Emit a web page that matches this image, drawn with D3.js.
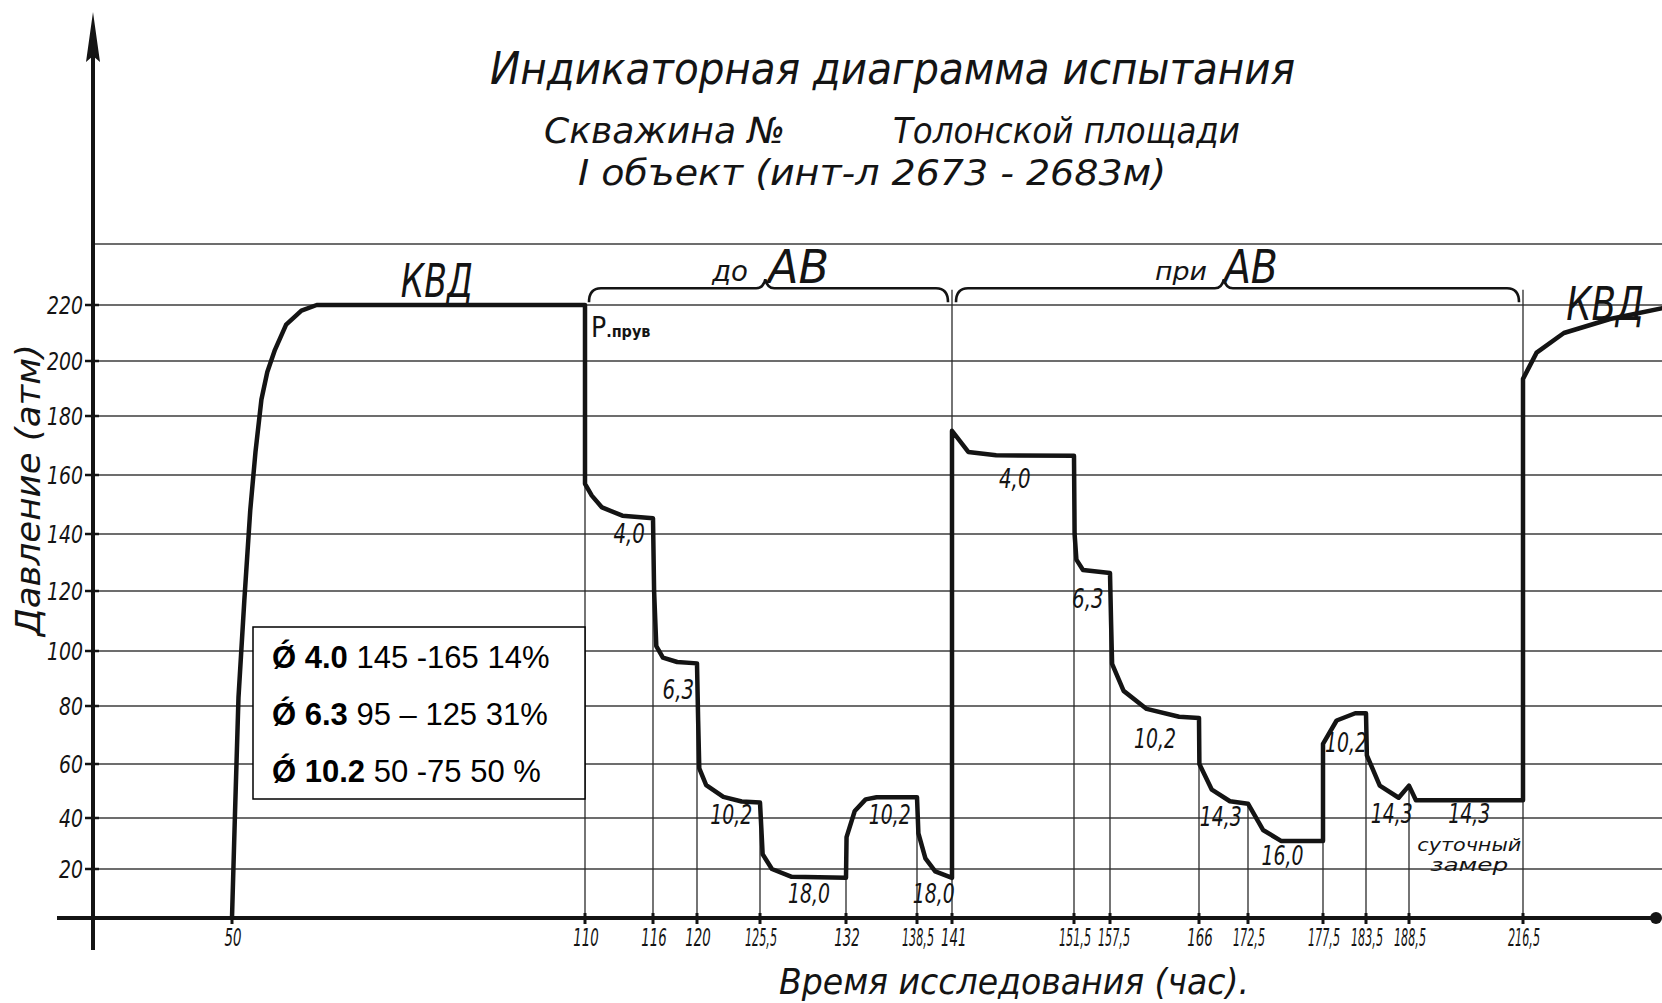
<!DOCTYPE html>
<html><head><meta charset="utf-8">
<script src="https://cdn.jsdelivr.net/npm/d3@7"></script>
<style>
html,body{margin:0;padding:0;background:#fff;}
svg{display:block;}
.hand{font-family:'Liberation Sans Narrow','DejaVu Sans Condensed','Liberation Sans',sans-serif;font-style:italic;fill:#141414;}
.legend{font-family:'Liberation Sans',Arial,sans-serif;fill:#000;}
</style></head><body>
<svg id="chart" width="1662" height="1003"></svg>
<script>
// ---------------- DATA ----------------
const titleLine1 = "Индикаторная диаграмма испытания";
const titleLine2a = "Скважина №";
const titleLine2b = "Толонской площади";
const titleLine3 = "I объект (инт-л 2673 - 2683м)";
const yAxisTitle = "Давление (атм)";
const xAxisTitle = "Время исследования (час).";

const xTickValues = [50,110,116,120,125.5,132,138.5,141,151.5,157.5,166,172.5,177.5,183.5,188.5,216.5];
const xTickLabels = ["50","110","116","120","125,5","132","138,5","141","151,5","157,5","166","172,5","177,5","183,5","188,5","216,5"];
const yTickValues = [20,40,60,80,100,120,140,160,180,200,220];
const yTickLabels = ["20","40","60","80","100","120","140","160","180","200","220"];

// pressure curve: time (hours) and pressure (atm)
const hours = [50,50.5,51.1,52.1,53.1,54,55,56,57.3,59.2,61.8,64.4,110,
  110,110.6,111.5,113.3,116,
  116.1,116.3,116.9,118.2,120,
  120.1,120.2,120.8,122.3,123.9,125.5,
  125.6,125.7,126.4,127.9,132,
  132.05,132.8,133.8,134.8,138.5,
  138.6,139.1,139.8,141,
  141,142.4,144.8,151.5,
  151.6,151.9,153,157.5,
  157.6,157.7,158.8,161,164.1,166,
  166.05,167.7,170.1,172.5,
  173.5,174.7,177.5,
  177.5,179.4,182,183.5,
  183.6,185.1,187.3,188.5,190.2,216.5,
  216.5,218.3,221.9,228,235.2];
const pressure = [0,41,83,117,148,168,186,196,204,213,218,220,220,
  157,153,149,146.2,145.3,
  120,101.6,97.6,96,95.5,
  75,58.4,52.2,47.8,46.1,45.7,
  36,25.8,20,16.8,16.4,
  32.5,42.6,46.9,47.7,47.7,
  34,24.2,19,16.4,
  175,167.8,166.7,166.5,
  140,131,127.4,126.3,
  110,95.3,85.5,79,76.3,75.9,
  60,50.5,46.2,45.3,
  35.3,31,31,
  66.9,75,77.5,77.5,
  63,52,47.5,52,46.6,46.6,
  193.5,203,210,215,219];

// thin vertical lines at regime changes: hour and top pressure
const markerHours = [110,116,120,125.5,132,138.5,141,151.5,157.5,166,172.5,177.5,183.5,188.5,216.5];
const markerTops  = [157,145,95.5,45.7,16.4,47.7,225,166,126.3,76,45.3,31,77.5,52,225];

// choke diameter labels on the curve
const levelLabels    = ["4,0","6,3","10,2","18,0","10,2","18,0","4,0","6,3","10,2","14,3","16,0","10,2","14,3","14,3"];
const levelHours     = [113.9,118.3,123.0,129.2,136.0,139.7,146.4,153.8,161.8,168.9,174.8,180.7,186.5,203.3];
const levelPressures = [137,82.5,37.5,6,37.5,6,155.5,114.5,65.5,37,21.5,64,38,38];

// annotations
const noteTexts     = ["КВД","до","АВ","при","АВ","КВД","суточный","замер"];
const noteHours     = [84.8,121.3,126.1,161.8,169.3,222.2,203.3,203.3];
const notePressures = [222.6,227.9,227.2,228.2,227.2,214.6,27,19.2];

const braceFrom = [110,141];
const braceTo   = [141,216.5];
const braceMid  = [125.9,169.3];
const braceLevel = 225.5;

const legendCodes  = ["Ǿ 4.0","Ǿ 6.3","Ǿ 10.2"];
const legendRanges = [" 145 -165 14%"," 95 – 125 31%"," 50 -75 50 %"];

// ---------------- LAYOUT ----------------
const W = 1662, H = 1003;
const svg = d3.select("#chart");
// hand-drawn, non-uniform axes -> piecewise linear scales
const x = d3.scaleLinear()
  .domain([0,50,110,116,120,125.5,132,138.5,141,151.5,157.5,166,172.5,177.5,183.5,188.5,216.5,235])
  .range([93,232,585,653,697,760,846,917,952,1074,1110,1199,1248,1323,1366,1409,1523,1663]);
const y = d3.scaleLinear()
  .domain([0,20,40,60,80,100,120,140,160,180,200,220,240])
  .range([918,869,818,764,706,651,591,534,475,416,361,305,244]);
const ink = "#141414";

// grid
const grid = svg.append("g");
grid.selectAll("line.h").data(yTickValues.concat([240])).join("line")
  .attr("x1", x(0)).attr("x2", W).attr("y1", d => y(d)).attr("y2", d => y(d))
  .attr("stroke", "#3c3c3c").attr("stroke-width", 1.3);

// vertical marker lines
grid.selectAll("line.v").data(markerHours).join("line")
  .attr("x1", d => x(d)).attr("x2", d => x(d))
  .attr("y1", y(0)).attr("y2", (d,i) => y(markerTops[i]))
  .attr("stroke", "#2a2a2a").attr("stroke-width", 1.3);

// axes
svg.append("line").attr("x1", 57).attr("x2", 1656).attr("y1", y(0)).attr("y2", y(0))
  .attr("stroke", ink).attr("stroke-width", 4);
svg.append("circle").attr("cx", 1656).attr("cy", y(0)).attr("r", 6).attr("fill", ink);
svg.append("line").attr("x1", x(0)).attr("x2", x(0)).attr("y1", 50).attr("y2", 950)
  .attr("stroke", ink).attr("stroke-width", 4);
svg.append("path").attr("d", `M${x(0)},12 L${x(0)+7},62 L${x(0)},56 L${x(0)-7},62 Z`).attr("fill", ink);

// y ticks and labels
const yAx = svg.append("g");
yAx.selectAll("line").data(yTickValues).join("line")
  .attr("x1", x(0)-8).attr("x2", x(0)+6).attr("y1", d => y(d)).attr("y2", d => y(d))
  .attr("stroke", ink).attr("stroke-width", 2.5);
yAx.selectAll("text").data(yTickLabels).join("text")
  .attr("class", "hand").attr("x", 83).attr("y", (d,i) => y(yTickValues[i]))
  .attr("dy", "0.35em").attr("text-anchor", "end").attr("font-size", 25)
  .attr("textLength", d => d.length * 12).attr("lengthAdjust", "spacingAndGlyphs").text(d => d);

// x ticks and labels (narrowed with a horizontal scale, pushed apart when crowded)
const xAx = svg.append("g");
xAx.selectAll("line").data(xTickValues).join("line")
  .attr("x1", d => x(d)).attr("x2", d => x(d)).attr("y1", y(0)-5).attr("y2", y(0)+6)
  .attr("stroke", ink).attr("stroke-width", 3);
const xlW = xTickLabels.map(d => d.length >= 5 ? 32 : d.length * 8.5);
const xlPos = [];
xTickValues.forEach((t, i) => {
  let p = x(t) + 1;
  if (i > 0 && p - xlW[i] / 2 < xlPos[i-1] + xlW[i-1] / 2 + 7) p = xlPos[i-1] + (xlW[i-1] + xlW[i]) / 2 + 7;
  xlPos.push(p);
});
xAx.selectAll("text").data(xTickLabels).join("text")
  .attr("class", "hand").attr("x", 0).attr("y", 0)
  .attr("text-anchor", "middle").attr("font-size", 24).text(d => d)
  .each(function(d, i) {
    const nat = this.getComputedTextLength() || 1;
    const sx = Math.min(1, xlW[i] / nat);
    d3.select(this).attr("transform", `translate(${xlPos[i]},946) scale(${sx},1)`);
  });

// pressure curve
const line = d3.line().x((d,i) => x(hours[i])).y((d,i) => y(pressure[i])).curve(d3.curveLinear);
svg.append("path").datum(hours).attr("d", line)
  .attr("fill", "none").attr("stroke", ink).attr("stroke-width", 4.5)
  .attr("stroke-linejoin", "round").attr("stroke-linecap", "round");

// braces
function bracePath(x1, x2, xm, yb) {
  const p = d3.path();
  p.moveTo(x1, yb + 14);
  p.quadraticCurveTo(x1, yb, x1 + 12, yb);
  p.lineTo(xm - 9, yb);
  p.quadraticCurveTo(xm - 2, yb, xm, yb - 9);
  p.quadraticCurveTo(xm + 2, yb, xm + 9, yb);
  p.lineTo(x2 - 12, yb);
  p.quadraticCurveTo(x2, yb, x2, yb + 14);
  return p.toString();
}
svg.selectAll("path.brace").data(braceFrom).join("path").attr("class", "brace")
  .attr("d", (d,i) => bracePath(x(d) + 4, x(braceTo[i]) - 4, x(braceMid[i]), y(braceLevel)))
  .attr("fill", "none").attr("stroke", ink).attr("stroke-width", 2.6);

// level labels
svg.append("g").selectAll("text").data(levelLabels).join("text")
  .attr("class", "hand").attr("x", (d,i) => x(levelHours[i])).attr("y", (d,i) => y(levelPressures[i]))
  .attr("text-anchor", "middle").attr("font-size", 27)
  .attr("textLength", d => d.length * 10.5).attr("lengthAdjust", "spacingAndGlyphs").text(d => d);

// notes
const noteSize = [46,28,46,24,46,46,17,17];
const noteAnchor = ["middle","start","start","start","start","start","middle","middle"];
const noteLen = [72,36,61,52,54,78,104,78];
svg.append("g").selectAll("text").data(noteTexts).join("text")
  .attr("class", "hand").attr("x", (d,i) => x(noteHours[i])).attr("y", (d,i) => y(notePressures[i]))
  .attr("text-anchor", (d,i) => noteAnchor[i]).attr("font-size", (d,i) => noteSize[i])
  .attr("textLength", (d,i) => noteLen[i]).attr("lengthAdjust", "spacingAndGlyphs")
  .text(d => d);

// P прув
const pt = svg.append("text").attr("x", x(110) + 6).attr("y", 337)
  .attr("font-family", "'Liberation Sans Narrow','DejaVu Sans Condensed',sans-serif").attr("fill", ink);
pt.append("tspan").attr("font-size", 28).text("Р");
pt.append("tspan").attr("font-size", 16).attr("font-weight", "bold").text(".прув");

// titles
function title(txt, x0, x1, base, size) {
  svg.append("text").attr("class", "hand").attr("x", x0).attr("y", base)
    .attr("font-size", size).attr("textLength", x1 - x0).attr("lengthAdjust", "spacingAndGlyphs").text(txt);
}
title(titleLine1, 490, 1295, 84, 44);
title(titleLine2a, 544, 785, 143, 36);
title(titleLine2b, 893, 1240, 143, 36);
title(titleLine3, 578, 1166, 185, 36);

// axis titles
svg.append("text").attr("class", "hand")
  .attr("transform", "translate(40,490) rotate(-90)")
  .attr("text-anchor", "middle").attr("font-size", 33)
  .attr("textLength", 292).attr("lengthAdjust", "spacingAndGlyphs").text(yAxisTitle);
svg.append("text").attr("class", "hand").attr("x", 779).attr("y", 994)
  .attr("font-size", 36).attr("textLength", 470).attr("lengthAdjust", "spacingAndGlyphs").text(xAxisTitle);

// legend box
const lg = svg.append("g");
lg.append("rect").attr("x", 253).attr("y", 627).attr("width", 332).attr("height", 172)
  .attr("fill", "#fff").attr("stroke", "#000").attr("stroke-width", 1.5);
const lgRows = [668, 725, 782];
legendCodes.forEach((c, i) => {
  const t = lg.append("text").attr("class", "legend").attr("x", 272).attr("y", lgRows[i]).attr("font-size", 31);
  t.append("tspan").attr("font-weight", "bold").text(c);
  t.append("tspan").text(legendRanges[i]);
});
</script>
</body></html>
